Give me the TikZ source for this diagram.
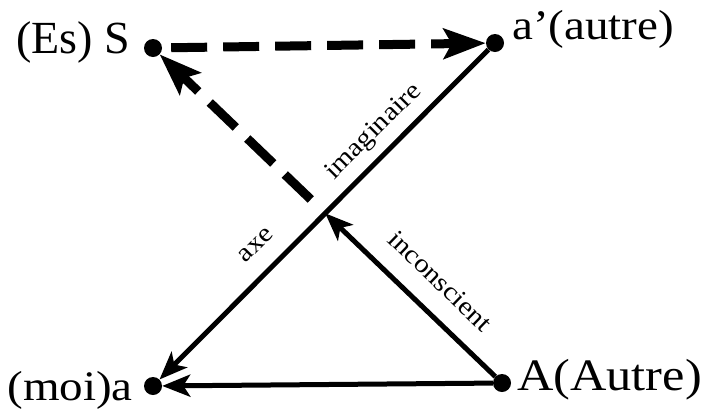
\documentclass[tikz,border=0pt]{standalone}
\usepackage{fontspec}
\setmainfont{Liberation Serif}
\newfontfamily\labfont[FakeStretch=1.12]{Liberation Serif}
\usetikzlibrary{arrows.meta,calc}
\begin{document}
\begin{tikzpicture}[x=1pt,y=-1pt]
\tikzset{
 vertex/.style={circle,fill=black,inner sep=0pt,minimum size=18pt},
 solidline/.style={line width=5pt,-{Stealth[length=28pt,width=22pt,inset=7pt]}},
 dashline/.style={line width=9pt,dash pattern=on 36pt off 16pt,-{Stealth[length=42pt,width=30pt,inset=8pt]}},
 biglabel/.style={font=\labfont\fontsize{42}{42}\selectfont,inner sep=0pt},
 axislabel/.style={font=\labfont\fontsize{26}{26}\selectfont,inner sep=0pt},
}
\useasboundingbox (0,0) rectangle (711,408);
\node[vertex] (S) at (153,48) {};
\node[vertex] (ap) at (495,43) {};
\node[vertex] (a) at (153,386) {};
\node[vertex] (A) at (502,383) {};
\coordinate (X) at (intersection of S--A and ap--a);
% connectors
\draw[solidline] (ap) -- (a);
\draw[solidline] (A) -- (a);
\draw[solidline] (A) -- (X);
\draw[dashline,shorten <=20pt] (X) -- (S);
\draw[dashline,shorten <=9pt] (S) -- (ap);
% labels
\node[biglabel,font=\fontsize{46}{46}\selectfont,anchor=base east] (lS) at (130,53) {(Es) S};
\node[biglabel,anchor=base west] (lap) at (512,39) {a’(autre)};
\node[biglabel,anchor=base east] (la) at (133,400) {(moi)a};
\node[biglabel,font=\labfont\fontsize{45}{45}\selectfont,anchor=base west] (lA) at (517,390) {A(Autre)};
\node[axislabel,rotate=45] (limag) at (374,132) {imaginaire};
\node[axislabel,rotate=45] (laxe) at (256,245) {axe};
\node[axislabel,rotate=-44] (lincon) at (440,281) {inconscient};
\end{tikzpicture}
\end{document}
